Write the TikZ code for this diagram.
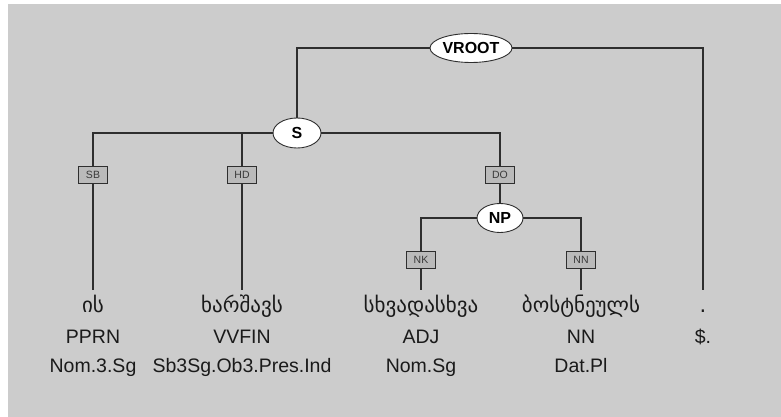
\documentclass[tikz,border=0pt]{standalone}
\usepackage{fontspec}
\setmainfont{Liberation Sans}
\newfontfamily\geofont{DejaVu Sans}
\usetikzlibrary{shapes.geometric,positioning,calc}
\definecolor{Panel}{HTML}{CCCCCC}
\definecolor{Edge}{HTML}{2E2E2E}
\definecolor{TagFill}{HTML}{BABABA}
\definecolor{TagText}{HTML}{3A3A3A}
\definecolor{Ink}{HTML}{1A1A1A}

\begin{document}
\begin{tikzpicture}[x=1pt,y=-1pt,
    cat/.style={ellipse,draw=Edge,fill=white,line width=0.9pt,inner sep=0pt,
      font=\bfseries\fontsize{16}{16}\selectfont},
    edgelab/.style={draw=Edge,fill=TagFill,text=TagText,line width=1pt,inner sep=0pt,
      minimum width=29pt,minimum height=17pt,font=\fontsize{10.5}{10.5}\selectfont},
    word/.style={anchor=base,text=Ink,font=\geofont\fontsize{21}{21}\selectfont},
    tag/.style={anchor=base,text=Ink,font=\fontsize{19.5}{19.5}\selectfont},
    link/.style={draw=Edge,line width=1.25pt}]
  \useasboundingbox (0,0) rectangle (781,417);
  \fill[Panel] (8,4) rectangle (781,417);
  % phrase nodes
  \node[cat,minimum width=82pt,minimum height=29pt] (vroot) at (471,48) {VROOT};
  \node[cat,minimum width=48pt,minimum height=30pt] (s) at (297,133) {S};
  \node[cat,minimum width=46pt,minimum height=29pt] (np) at (500,218) {NP};
  % edge labels
  \node[edgelab] (sb) at (93,175) {SB};
  \node[edgelab] (hd) at (242,175) {HD};
  \node[edgelab] (do) at (500,175) {DO};
  \node[edgelab] (nk) at (421,260) {NK};
  \node[edgelab] (nn) at (581,260) {NN};
  % tokens
  \coordinate (t1) at (93,290);
  \coordinate (t2) at (242,290);
  \coordinate (t3) at (421,290);
  \coordinate (t4) at (581,290);
  \coordinate (t5) at (703,290);
  \node[word] (w1) at (93,312) {ის};
  \node[word] (w2) at (242,312) {ხარშავს};
  \node[word] (w3) at (421,312) {სხვადასხვა};
  \node[word] (w4) at (581,312) {ბოსტნეულს};
  \node[word] (w5) at (703,312) {.};
  \node[tag] (p1) at (93,343) {PPRN};
  \node[tag] (p2) at (242,343) {VVFIN};
  \node[tag] (p3) at (421,343) {ADJ};
  \node[tag] (p4) at (581,343) {NN};
  \node[tag] (p5) at (703,343) {\$.};
  \node[tag] (m1) at (93,372) {Nom.3.Sg};
  \node[tag] (m2) at (242,372) {Sb3Sg.Ob3.Pres.Ind};
  \node[tag] (m3) at (421,372) {Nom.Sg};
  \node[tag] (m4) at (581,372) {Dat.Pl};
  % tree edges
  \draw[link] (vroot.west) -| (s.north);
  \draw[link] (vroot.east) -| (t5);
  \draw[link] (s.west) -| (sb.north);
  \draw[link] (s.west) -| (hd.north);
  \draw[link] (s.east) -| (do.north);
  \draw[link] (do.south) -- (np.north);
  \draw[link] (np.west) -| (nk.north);
  \draw[link] (np.east) -| (nn.north);
  \draw[link] (sb.south) -- (t1);
  \draw[link] (hd.south) -- (t2);
  \draw[link] (nk.south) -- (t3);
  \draw[link] (nn.south) -- (t4);
\end{tikzpicture}
\end{document}
